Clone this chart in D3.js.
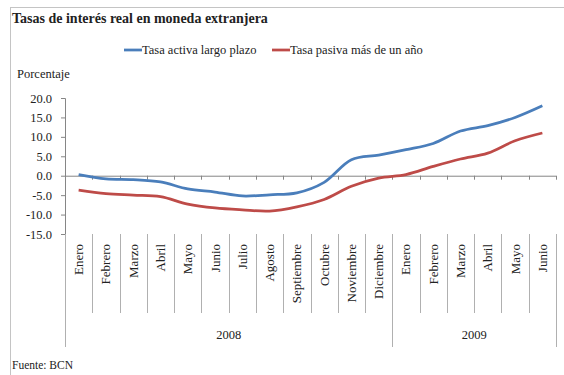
<!DOCTYPE html>
<html>
<head>
<meta charset="utf-8">
<script src="https://cdn.jsdelivr.net/npm/d3@7"></script>
<style>
  body { margin: 0; background: #fff; }
</style>
</head>
<body>
<div id="chart"></div>
<script>
const months = ["Enero", "Febrero", "Marzo", "Abril", "Mayo", "Junio", "Julio", "Agosto",
  "Septiembre", "Octubre", "Noviembre", "Diciembre",
  "Enero", "Febrero", "Marzo", "Abril", "Mayo", "Junio"];
const years = ["2008", "2009"];
const yearLengths = [12, 6];
const activa = [0.3, -0.8, -1.0, -1.6, -3.4, -4.2, -5.2, -4.9, -4.4, -1.7, 4.1, 5.3,
  6.7, 8.3, 11.5, 12.9, 15.0, 18.0];
const pasiva = [-3.7, -4.6, -5.0, -5.4, -7.3, -8.3, -8.8, -9.1, -8.0, -6.1, -2.7, -0.6,
  0.3, 2.4, 4.3, 5.8, 9.0, 11.0];
const yTicks = [-15, -10, -5, 0, 5, 10, 15, 20];
const seriesNames = ["Tasa activa largo plazo", "Tasa pasiva más de un año"];
const colors = ["#4A7EBB", "#BE4B48"];

const W = 564, H = 375;
const axisColor = "#868686";
const font = "'Liberation Serif', 'DejaVu Serif', serif";

const svg = d3.select("#chart").append("svg")
  .attr("width", W)
  .attr("height", H);

// outer frame (right/bottom sides fall outside the picture)
svg.append("rect")
  .attr("x", 10.5).attr("y", 7.5)
  .attr("width", 600).attr("height", 400)
  .attr("fill", "none")
  .attr("stroke", "#C4C4C4");

svg.append("text")
  .attr("x", 12).attr("y", 23)
  .style("font-size", "14px")
  .style("font-weight", "bold")
  .text("Tasas de interés real en moneda extranjera");

const x = d3.scaleBand()
  .domain(d3.range(months.length))
  .range([65, 556]);

const y = d3.scaleLinear()
  .domain([-15, 20])
  .range([234, 98]);

// y axis
const yAxis = svg.append("g")
  .attr("transform", "translate(65,0)")
  .call(d3.axisLeft(y).tickValues(yTicks).tickSize(4).tickPadding(9)
    .tickFormat(d => d.toFixed(1)));
yAxis.select(".domain").attr("stroke", axisColor);
yAxis.selectAll(".tick line").attr("stroke", axisColor);
yAxis.selectAll(".tick text")
  .style("font-size", "12.5px")
  .attr("fill", "#222");

svg.append("text")
  .attr("x", 17).attr("y", 78)
  .style("font-size", "12.5px")
  .text("Porcentaje");

// zero line with category ticks
svg.append("line")
  .attr("x1", x.range()[0]).attr("x2", x.range()[1])
  .attr("y1", y(0) + 0.5).attr("y2", y(0) + 0.5)
  .attr("stroke", axisColor);

const bounds = d3.range(months.length + 1).map(i => i < months.length ? x(i) : x.range()[1]);
svg.append("g").selectAll("line")
  .data(bounds.slice(1))
  .join("line")
  .attr("x1", d => Math.round(d) + 0.5).attr("x2", d => Math.round(d) + 0.5)
  .attr("y1", y(0)).attr("y2", y(0) + 4)
  .attr("stroke", axisColor);

// label area separators
svg.append("g").selectAll("line")
  .data(bounds)
  .join("line")
  .attr("x1", d => Math.round(d) + 0.5).attr("x2", d => Math.round(d) + 0.5)
  .attr("y1", y(-15)).attr("y2", 313)
  .attr("stroke", "#B0B0B0");

const yearStarts = [0, ...d3.cumsum(yearLengths)];
svg.append("g").selectAll("line")
  .data(yearStarts)
  .join("line")
  .attr("x1", d => Math.round(bounds[d]) + 0.5).attr("x2", d => Math.round(bounds[d]) + 0.5)
  .attr("y1", 313).attr("y2", 347)
  .attr("stroke", "#B0B0B0");

svg.append("g").selectAll("text")
  .data(months)
  .join("text")
  .attr("transform", (d, i) => `translate(${x(i) + x.bandwidth() / 2 + 4.5},244) rotate(-90)`)
  .attr("text-anchor", "end")
  .style("font-size", "13px")
  .text(d => d);

svg.append("g").selectAll("text")
  .data(years)
  .join("text")
  .attr("x", (d, i) => (bounds[yearStarts[i]] + bounds[yearStarts[i + 1]]) / 2)
  .attr("y", 339)
  .attr("text-anchor", "middle")
  .style("font-size", "12.5px")
  .text(d => d);

// lines
const line = d3.line()
  .x((d, i) => x(i) + x.bandwidth() / 2)
  .y(d => y(d))
  .curve(d3.curveCatmullRom.alpha(0.5));

[activa, pasiva].forEach((s, k) => {
  svg.append("path")
    .datum(s)
    .attr("d", line)
    .attr("fill", "none")
    .attr("stroke", colors[k])
    .attr("stroke-width", 2.75)
    .attr("stroke-linejoin", "round");
});

// legend
const legendX = [124, 272];
const legend = svg.append("g").selectAll("g")
  .data(seriesNames)
  .join("g")
  .attr("transform", (d, i) => `translate(${legendX[i]},50)`);
legend.append("line")
  .attr("x1", 0).attr("x2", 18)
  .attr("stroke", (d, i) => colors[i])
  .attr("stroke-width", 2.75);
legend.append("text")
  .attr("x", 18).attr("y", 4)
  .style("font-size", "12.5px")
  .text(d => d);

svg.append("text")
  .attr("x", 12).attr("y", 369)
  .style("font-size", "11.5px")
  .text("Fuente: BCN");

svg.selectAll("text").style("font-family", font).attr("fill", "#222");
</script>
</body>
</html>
